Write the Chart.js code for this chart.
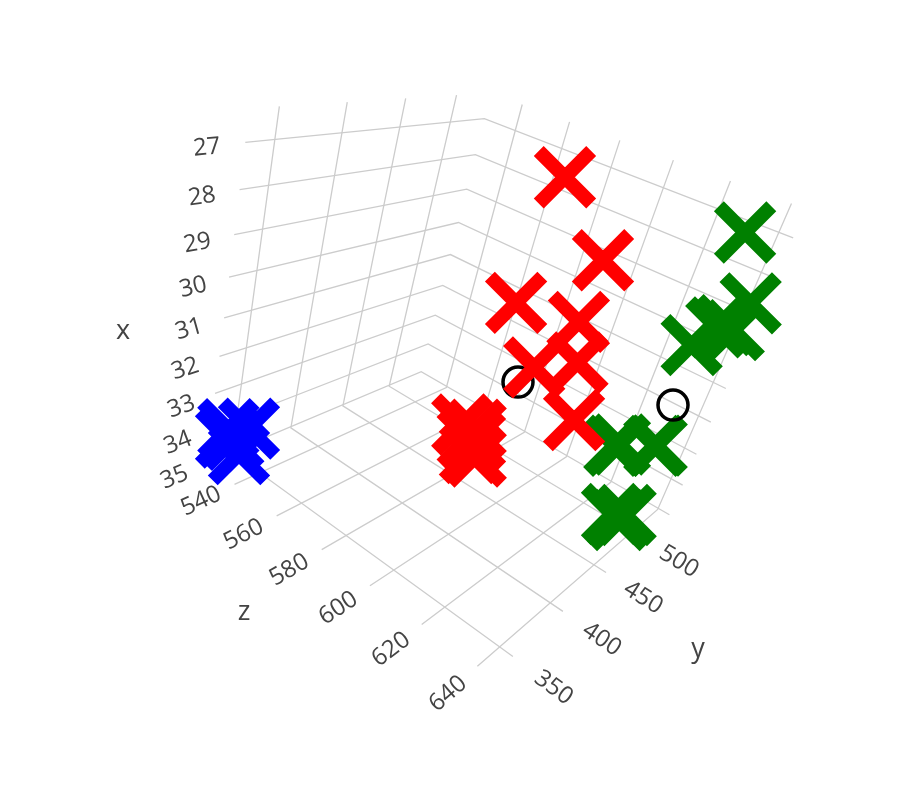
<!DOCTYPE html>
<html>
<head>
<meta charset="utf-8">
<script src="https://cdn.jsdelivr.net/npm/chart.js@4"></script>
<style>
    body { margin: 0; background: #fff; }
    canvas { display: block; }
</style>
</head>
<body>
<canvas id="myChart" width="920" height="786"></canvas>
<script>
var xTicks = [27, 28, 29, 30, 31, 32, 33, 34, 35]
var yTicks = [350, 400, 450, 500]
var zTicks = [540, 560, 580, 600, 620, 640]

var blueX = [33.82, 33.85, 34.52, 34.12, 34.00]
var blueY = [333.7, 344.8, 339.6, 334.5, 333.4]
var blueZ = [532, 535, 535, 531, 535]

var redX = [26.59, 29.16, 29.47, 30.89, 31.75, 32.10, 33.75, 32.46, 32.88, 33.85, 33.03, 33.24, 33.60]
var redY = [446.2, 529.7, 433.6, 524.9, 481.5, 531.7, 532.9, 412.5, 430.2, 440.3, 423.6, 433.2, 431.6]
var redZ = [590, 590, 590, 590, 590, 593, 599, 590, 590, 590, 590, 590, 590]

var greenX = [27.24, 28.65, 30.29, 29.53, 29.47, 29.42, 32.78, 32.89, 33.20, 33.13, 34.90, 34.82, 34.94]
var greenY = [534.0, 528.8, 534.1, 529.0, 532.7, 531.0, 488.3, 497.6, 530.3, 528.9, 500.6, 504.6, 499.9]
var greenZ = [631, 642, 629, 635, 640, 637, 625, 625, 631, 632, 631, 635, 634]

var centerX = [31.11, 31.98, 34.00]
var centerY = [428.2, 534.0, 333.9]
var centerZ = [600, 631, 536]

// box limits of the scene
var xLow = 26.31, xHigh = 35.04
var yLow = 330.24, yHigh = 537.79
var zLow = 526.02, zHigh = 644.61

// camera of the scene, fitted to the grid of the picture
var cam = [2.592359, 127.8931, 86.77613, 490.2039,
    183.6628, 5.246084, 39.24343, 365.2887,
    0.0941915, 0.1077233, -0.0834088]

function project(x, y, z) {
    var u = (x - 31) / 4, v = (y - 425) / 75, w = (z - 590) / 50
    var d = cam[8] * u + cam[9] * v + cam[10] * w + 1
    return {
        x: (cam[0] * u + cam[1] * v + cam[2] * w + cam[3]) / d,
        y: (cam[4] * u + cam[5] * v + cam[6] * w + cam[7]) / d
    }
}

function points(xs, ys, zs) {
    return xs.map((x, i) => project(x, ys[i], zs[i]))
}

function gridLine(data) {
    return {
        data: data, showLine: true, pointRadius: 0, order: 5,
        borderColor: 'rgb(204, 204, 204)', borderWidth: 1.3
    }
}

function crosses(data, color, order) {
    return {
        data: data, showLine: false, order: order, pointStyle: 'crossRot',
        pointRadius: 37.1, pointBorderWidth: 14,
        pointBorderColor: color, pointBackgroundColor: color
    }
}

var datasets = []
xTicks.forEach(t => datasets.push(gridLine([project(t, yLow, zLow), project(t, yHigh, zLow), project(t, yHigh, zHigh)])))
yTicks.forEach(t => datasets.push(gridLine([project(xHigh, t, zHigh), project(xHigh, t, zLow), project(xLow, t, zLow)])))
zTicks.forEach(t => datasets.push(gridLine([project(xHigh, yLow, t), project(xHigh, yHigh, t), project(xLow, yHigh, t)])))

datasets.push(crosses(points(greenX, greenY, greenZ), 'rgb(0, 128, 0)', 4))
datasets.push({
    data: points(centerX, centerY, centerZ), showLine: false, order: 3, pointStyle: 'circle',
    pointRadius: 15, pointBorderWidth: 3.5,
    pointBorderColor: '#000', pointBackgroundColor: 'rgba(0, 0, 0, 0)'
})
datasets.push(crosses(points(redX, redY, redZ), 'rgb(255, 0, 0)', 2))
datasets.push(crosses(points(blueX, blueY, blueZ), 'rgb(0, 0, 255)', 1))

// tick labels sit on the prolonged grid line, outside the box, and turn with it
function tickLabel(ctx, chart, text, from, to) {
    var sx = chart.scales.x, sy = chart.scales.y
    var ax = sx.getPixelForValue(from.x), ay = sy.getPixelForValue(from.y)
    var bx = sx.getPixelForValue(to.x), by = sy.getPixelForValue(to.y)
    var angle = Math.atan2(by - ay, bx - ax)
    if (Math.cos(angle) < 0) angle += Math.PI
    ctx.save()
    ctx.translate(bx, by)
    ctx.rotate(angle)
    ctx.fillText(text, 0, 1.5)
    ctx.restore()
}

function axisTitle(ctx, chart, text, x, y) {
    ctx.fillText(text, chart.scales.x.getPixelForValue(x), chart.scales.y.getPixelForValue(y))
}

var sceneText = {
    id: 'sceneText',
    beforeDatasetsDraw(chart) {
        var ctx = chart.ctx
        ctx.save()
        ctx.fillStyle = 'rgb(68, 68, 68)'
        ctx.textAlign = 'center'
        ctx.textBaseline = 'middle'
        ctx.font = '24px "Open Sans"'
        xTicks.forEach(t => tickLabel(ctx, chart, String(t), project(t, yLow, zLow), project(t, yLow - 24, zLow)))
        yTicks.forEach(t => tickLabel(ctx, chart, String(t), project(xHigh, t, zHigh), project(xHigh, t, zHigh + 14)))
        zTicks.forEach(t => tickLabel(ctx, chart, String(t), project(xHigh, yLow, t), project(xHigh, yLow - 25, t)))
        ctx.font = '27px "Open Sans"'
        axisTitle(ctx, chart, 'x', 123, 331)
        axisTitle(ctx, chart, 'y', 698, 649)
        axisTitle(ctx, chart, 'z', 244, 612)
        ctx.restore()
    }
}

const myChart = new Chart(document.getElementById('myChart'), {
    type: 'scatter',
    data: { datasets: datasets },
    plugins: [sceneText],
    options: {
        responsive: false,
        animation: false,
        layout: { padding: 0, autoPadding: false },
        plugins: { legend: { display: false }, tooltip: { enabled: false } },
        scales: {
            x: { type: 'linear', display: false, min: 0, max: 920 },
            y: { type: 'linear', display: false, min: 0, max: 786, reverse: true }
        }
    }
})
</script>
</body>
</html>
